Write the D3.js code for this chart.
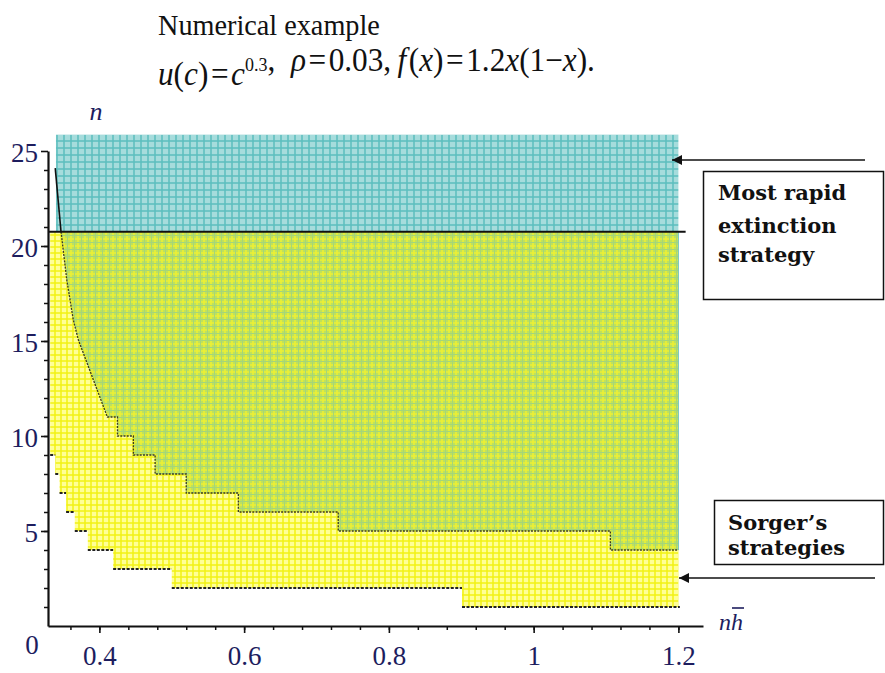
<!DOCTYPE html>
<html><head><meta charset="utf-8">
<script src="https://cdn.jsdelivr.net/npm/d3@7"></script>
<style>
html,body{margin:0;padding:0;background:#fff;}
svg{display:block;}
</style></head>
<body>
<svg id="chart" width="885" height="673"></svg>
<script>
// ---------------- data ----------------
const xTickValues = [0.4, 0.6, 0.8, 1, 1.2];
const xTickLabels = ["0.4", "0.6", "0.8", "1", "1.2"];
const yTickValues = [5, 10, 15, 20, 25];
const yTickLabels = ["5", "10", "15", "20", "25"];

const extinctionLevel = 20.75;      // horizontal line n*
const cyanTop = 25.85;              // top of the cyan region
const cyanLeft = 0.340;             // left edge of the cyan region
const regionRight = 1.2;            // right edge of shaded regions

// upper boundary (green region), sloped part
const slopeX = [0.339, 0.347, 0.355, 0.364, 0.371, 0.411];
const slopeN = [24.1, 20.75, 18.2, 16.1, 15.05, 11];
// upper boundary, stair part: level n starts at x
const stairX = [0.411, 0.425, 0.447, 0.477, 0.520, 0.592, 0.730, 1.106];
const stairN = [11, 10, 9, 8, 7, 6, 5, 4];
// Sorger's strategies: level n starts at x
const sorgerX = [0.332, 0.339, 0.345, 0.354, 0.366, 0.384, 0.419, 0.500, 0.901];
const sorgerN = [9, 8, 7, 6, 5, 4, 3, 2, 1];

// ---------------- font detection ----------------
function pickFont(cands, fallback) {
  const c = document.createElement("canvas").getContext("2d");
  const sample = "Numerical example 0.123456789 mwWiIl";
  const base = {};
  ["monospace", "sans-serif"].forEach(g => { c.font = "40px " + g; base[g] = c.measureText(sample).width; });
  for (const f of cands) {
    let ok = false;
    ["monospace", "sans-serif"].forEach(g => {
      c.font = `40px "${f}", ${g}`;
      if (Math.abs(c.measureText(sample).width - base[g]) > 0.5) ok = true;
    });
    if (ok) return `"${f}", ${fallback}`;
  }
  return fallback;
}
const SERIF = pickFont(["Liberation Serif", "Tinos", "Times New Roman", "Times", "Nimbus Roman", "DejaVu Serif", "Noto Serif"], "serif");
const SLAB = pickFont(["DejaVu Serif", "Liberation Serif", "Noto Serif"], "serif");

// ---------------- scales ----------------
const svg = d3.select("#chart");
const x = d3.scaleLinear().domain([0.329, 1.234]).range([48, 703]);
const y = d3.scaleLinear().domain([0, 25]).range([626, 151]);
const line = d3.line().x(d => x(d[0])).y(d => y(d[1]));

// ---------------- patterns ----------------
const defs = svg.append("defs");
function gridPattern(id, size, base, lines) {
  const p = defs.append("pattern").attr("id", id).attr("patternUnits", "userSpaceOnUse")
    .attr("width", size).attr("height", size);
  p.append("rect").attr("width", size).attr("height", size).attr("fill", base);
  lines.forEach(l => {
    p.append("path").attr("d", `M0 ${l.o}H${size}M${l.o} 0V${size}`)
      .attr("stroke", l.c).attr("stroke-width", l.w).attr("fill", "none");
  });
}
gridPattern("pYellow", 6, "#ffff96", [{o: 1, c: "#f2f214", w: 1.5}]);
gridPattern("pCyan", 7, "#a6dcdc", [{o: 1, c: "#5cbebe", w: 1.5}]);
gridPattern("pGreen", 7, "#c0e25a", [{o: 1, c: "#ecf034", w: 1.6}, {o: 4.5, c: "#a4d67a", w: 1}]);

// ---------------- regions ----------------
const yellowPts = [[sorgerX[0], extinctionLevel]];
sorgerX.forEach((sx, i) => {
  yellowPts.push([sx, sorgerN[i]]);
  const nx = i + 1 < sorgerX.length ? sorgerX[i + 1] : regionRight;
  yellowPts.push([nx, sorgerN[i]]);
});
yellowPts.push([regionRight, extinctionLevel]);
svg.append("path").attr("d", line(yellowPts) + "Z").attr("fill", "url(#pYellow)");

const stairPts = [];
stairX.forEach((sx, i) => {
  stairPts.push([sx, stairN[i]]);
  const nx = i + 1 < stairX.length ? stairX[i + 1] : regionRight;
  stairPts.push([nx, stairN[i]]);
});
const slopePts = slopeX.map((v, i) => [v, slopeN[i]]);
const greenPts = [[slopeX[1], extinctionLevel]].concat(slopePts.slice(2), stairPts.slice(1), [[regionRight, extinctionLevel]]);
svg.append("path").attr("d", line(greenPts) + "Z").attr("fill", "url(#pGreen)");

svg.append("path").attr("d", line([[cyanLeft, cyanTop], [regionRight, cyanTop], [regionRight, extinctionLevel], [cyanLeft, extinctionLevel]]) + "Z")
  .attr("fill", "url(#pCyan)");
svg.append("path").attr("d", line([[regionRight, extinctionLevel], [regionRight, stairN[stairN.length - 1]]]))
  .attr("stroke", "#7cc8c8").attr("stroke-width", 1.2).attr("fill", "none");

// ---------------- boundary lines ----------------
svg.append("path").attr("d", line(slopePts.slice(0, 2))).attr("fill", "none")
  .attr("stroke", "#111").attr("stroke-width", 1.6);
svg.append("path").attr("d", line(slopePts.slice(1).concat(stairPts.slice(1)))).attr("fill", "none")
  .attr("stroke", "#3a3a22").attr("stroke-width", 1.3).attr("stroke-dasharray", "2,1.2");
sorgerX.forEach((sx, i) => {
  const nx = i + 1 < sorgerX.length ? sorgerX[i + 1] : regionRight + 0.002;
  svg.append("path").attr("d", line([[sx, sorgerN[i]], [nx, sorgerN[i]]]))
    .attr("stroke", "#222").attr("stroke-width", 2).attr("stroke-dasharray", "3,1.5").attr("fill", "none");
});
svg.append("path").attr("d", line([[0.329, extinctionLevel], [1.21, extinctionLevel]]))
  .attr("stroke", "#111").attr("stroke-width", 1.8).attr("fill", "none");

// ---------------- axes ----------------
const labelColor = "#1d1d5e";
const tickFont = 27;
const xMinor = d3.range(9, 31).map(i => +(i * 0.04).toFixed(2));
const yMinor = d3.range(1, 25);
svg.append("g").attr("transform", "translate(0,626)")
  .call(d3.axisBottom(x).tickValues(xMinor).tickSize(4).tickFormat(""))
  .call(g => g.select(".domain").remove())
  .selectAll("line").attr("stroke", "#111").attr("stroke-width", 1.5);
svg.append("g").attr("transform", "translate(48,0)")
  .call(d3.axisLeft(y).tickValues(yMinor).tickSize(4).tickFormat(""))
  .call(g => g.select(".domain").remove())
  .selectAll("line").attr("stroke", "#111").attr("stroke-width", 1.5);

const gx = svg.append("g").attr("transform", "translate(0,626)")
  .call(d3.axisBottom(x).tickValues(xTickValues).tickFormat((d, i) => xTickLabels[i])
    .tickSize(7).tickSizeOuter(0).tickPadding(13));
gx.attr("font-family", SERIF).attr("font-size", tickFont);
gx.select(".domain").attr("stroke", "#111").attr("stroke-width", 2.2);
gx.selectAll("line").attr("stroke", "#111").attr("stroke-width", 1.6);
gx.selectAll("text").attr("fill", labelColor);

const gy = svg.append("g").attr("transform", "translate(48,0)")
  .call(d3.axisLeft(y).tickValues(yTickValues).tickFormat((d, i) => yTickLabels[i])
    .tickSize(7).tickSizeOuter(0).tickPadding(3));
gy.attr("font-family", SERIF).attr("font-size", tickFont);
gy.select(".domain").attr("stroke", "#111").attr("stroke-width", 2.2);
gy.selectAll("line").attr("stroke", "#111").attr("stroke-width", 1.6);
gy.selectAll("text").attr("fill", labelColor).attr("dy", "0.4em");

svg.append("text").attr("x", 32).attr("y", 654).attr("text-anchor", "middle")
  .attr("font-family", SERIF).attr("font-size", tickFont).attr("fill", labelColor).text("0");

// axis titles
svg.append("text").attr("x", 96).attr("y", 120).attr("text-anchor", "middle")
  .attr("font-family", SERIF).attr("font-style", "italic").attr("font-size", 26).attr("fill", labelColor).text("n");
svg.append("text").attr("x", 719).attr("y", 630)
  .attr("font-family", SERIF).attr("font-style", "italic").attr("font-size", 24).attr("fill", labelColor).text("nh");
svg.append("line").attr("x1", 732).attr("x2", 744).attr("y1", 608).attr("y2", 608)
  .attr("stroke", labelColor).attr("stroke-width", 1.6);

// ---------------- title ----------------
function fitWidth(sel, x0, target) {
  const w = sel.node().getBBox().width;
  sel.attr("transform", `translate(${x0},0) scale(${target / w},1) translate(${-x0},0)`);
}
const t1 = svg.append("text").attr("x", 158).attr("y", 35)
  .attr("font-family", SERIF).attr("font-size", 30).attr("fill", "#111").text("Numerical example");
fitWidth(t1, 158, 222);

const t2 = svg.append("text").attr("x", 158).attr("y", 85)
  .attr("font-family", SERIF).attr("font-size", 33).attr("fill", "#111");
const parts = [
  ["u", 1], ["(", 0], ["c", 1], [")\u200A=\u200A", 0], ["c", 1], ["SUP0.3", 0], [",\u2002", 0],
  ["\u03C1", 1], ["\u200A=\u200A0.03,\u2009", 0], ["f", 1], ["\u200A(", 0], ["x", 1], [")\u200A=\u200A1.2", 0],
  ["x", 1], ["(1\u2212", 0], ["x", 1], [").", 0]
];
parts.forEach(([s, it]) => {
  if (s.startsWith("SUP")) {
    t2.append("tspan").attr("font-size", 19).attr("dy", -14).text(s.slice(3));
    t2.append("tspan").attr("dy", 14).text("");
  } else {
    t2.append("tspan").attr("font-style", it ? "italic" : "normal").text(s);
  }
});
fitWidth(t2, 158, 437);

// ---------------- annotations ----------------
svg.append("rect").attr("x", 703.5).attr("y", 171.5).attr("width", 180).attr("height", 128)
  .attr("fill", "#fff").attr("stroke", "#111").attr("stroke-width", 1.5);
[["Most rapid", 200], ["extinction", 233], ["strategy", 262]].forEach(([s, yy]) => {
  svg.append("text").attr("x", 718).attr("y", yy).attr("font-family", SLAB)
    .attr("font-weight", "bold").attr("font-size", 21).attr("fill", "#111").text(s);
});
svg.append("rect").attr("x", 714.5).attr("y", 500.5).attr("width", 169).attr("height", 64)
  .attr("fill", "#fff").attr("stroke", "#111").attr("stroke-width", 1.5);
[["Sorger\u2019s", 530], ["strategies", 555]].forEach(([s, yy]) => {
  svg.append("text").attr("x", 728).attr("y", yy).attr("font-family", SLAB)
    .attr("font-weight", "bold").attr("font-size", 21).attr("fill", "#111").text(s);
});

defs.append("marker").attr("id", "arr").attr("viewBox", "0 0 10 10").attr("refX", 10).attr("refY", 5)
  .attr("markerWidth", 12).attr("markerHeight", 10).attr("markerUnits", "userSpaceOnUse").attr("orient", "auto")
  .append("path").attr("d", "M0 0L10 5L0 10Z").attr("fill", "#111");
svg.append("line").attr("x1", 865).attr("y1", 160).attr("x2", 672).attr("y2", 160)
  .attr("stroke", "#111").attr("stroke-width", 1.5).attr("marker-end", "url(#arr)");
svg.append("line").attr("x1", 875).attr("y1", 578).attr("x2", 679).attr("y2", 578)
  .attr("stroke", "#111").attr("stroke-width", 1.5).attr("marker-end", "url(#arr)");
</script>
</body></html>
